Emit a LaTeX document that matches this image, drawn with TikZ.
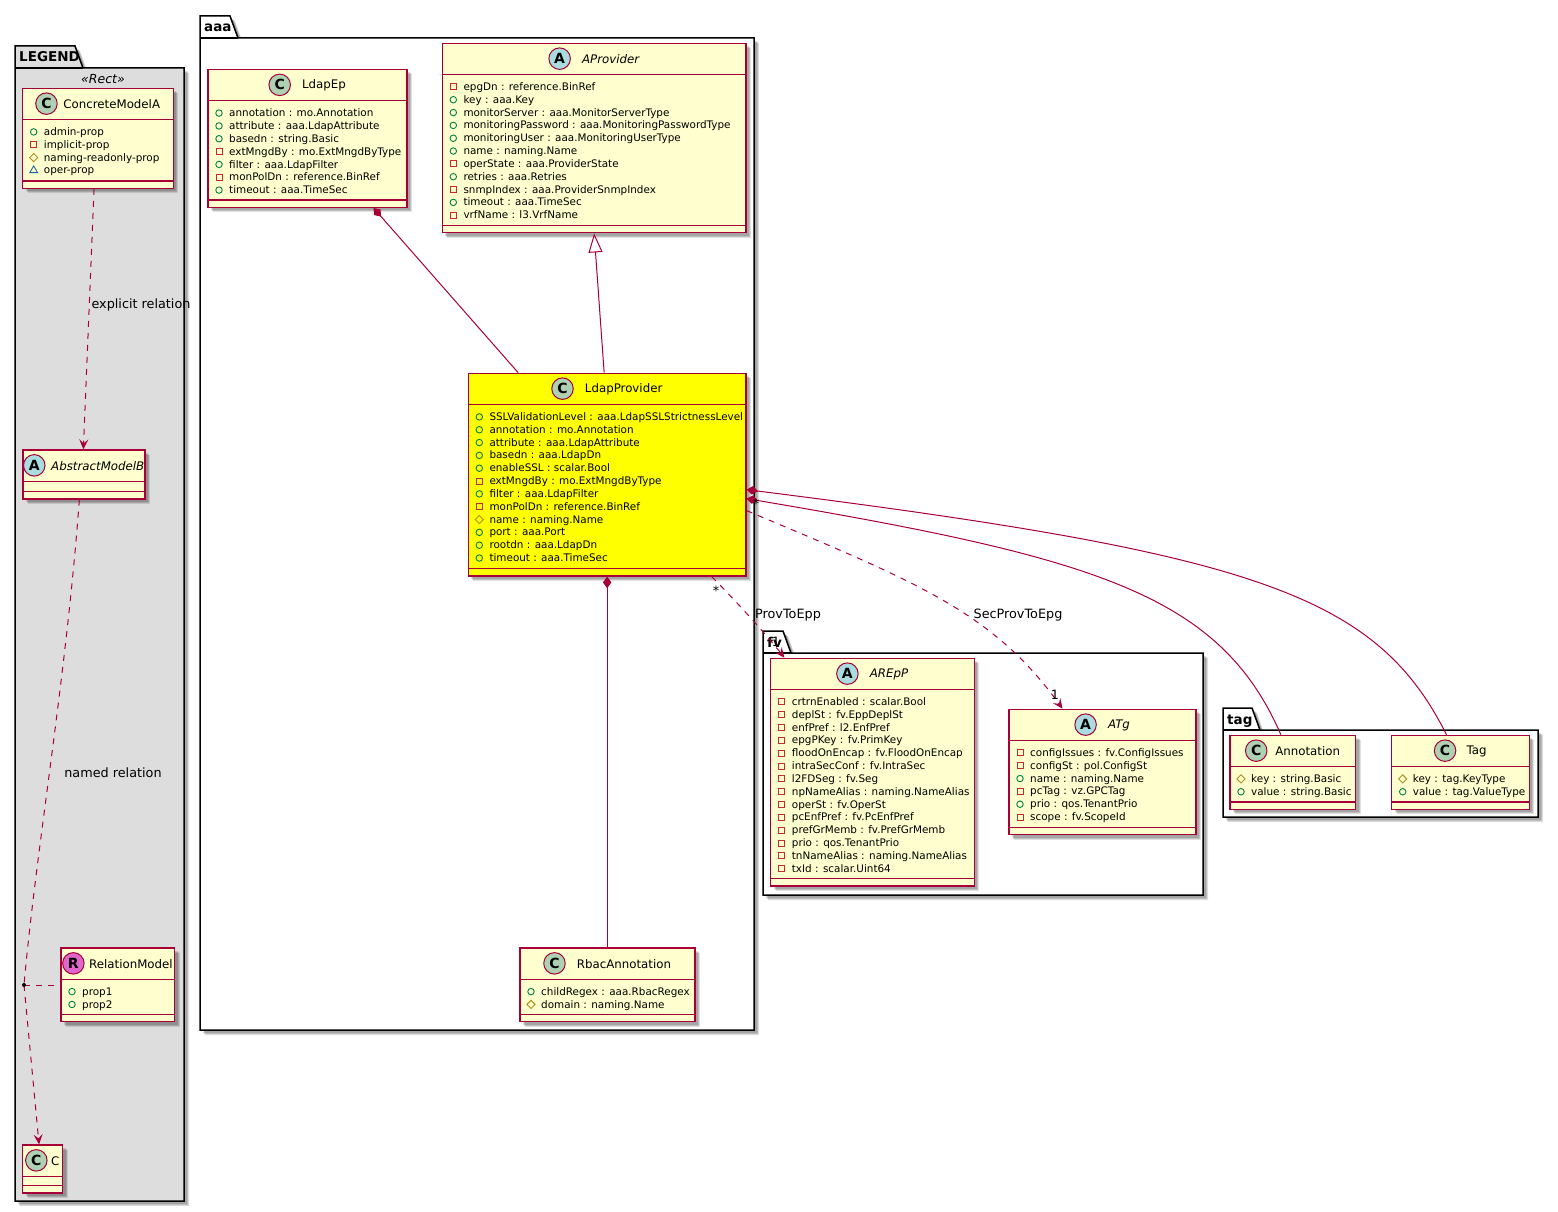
\documentclass[tikz,border=0pt]{standalone}
\usepackage{fontspec}
\setmainfont{DejaVu Sans}
\usepackage{xcolor}
\usetikzlibrary{calc, arrows.meta, shadows, shapes.geometric}

\definecolor{umlline}{HTML}{A80036}
\definecolor{umlfill}{HTML}{FEFECE}
\definecolor{umlyellow}{HTML}{FFFF00}
\definecolor{legendfill}{HTML}{DDDDDD}
\definecolor{spotgreen}{HTML}{ADD1B2}
\definecolor{spotblue}{HTML}{A9DCDF}
\definecolor{spotpink}{HTML}{E066CC}
\definecolor{vispublic}{HTML}{038048}
\definecolor{visprivate}{HTML}{C82930}
\definecolor{visprotected}{HTML}{B38D22}
\definecolor{vispackage}{HTML}{1963A0}

\tikzset{
  softshadow/.style={
    drop shadow={shadow xshift=3pt, shadow yshift=-3pt, opacity=.14, fill=black},
    drop shadow={shadow xshift=4pt, shadow yshift=-4pt, opacity=.14, fill=black},
    drop shadow={shadow xshift=5pt, shadow yshift=-5pt, opacity=.12, fill=black}},
  pkgframe/.style={draw=black, line width=1.5pt, fill=white, softshadow},
  pkgtitle/.style={font=\fontsize{13.5}{15}\selectfont\bfseries, inner sep=0pt, anchor=base west},
  classbox/.style={draw=umlline, line width=1.3pt, fill=umlfill, inner sep=0pt, softshadow},
  classrule/.style={draw=umlline, line width=1.3pt},
  classtitle/.style={font=\fontsize{11.8}{14}\selectfont, inner sep=0pt},
  attrtext/.style={font=\fontsize{10.4}{12}\selectfont, inner sep=0pt, anchor=base west},
  edgelabel/.style={font=\fontsize{12.8}{14}\selectfont, inner sep=0pt},
  spot/.style={circle, draw=umlline, line width=1pt, minimum size=21.5pt, inner sep=0pt,
    font=\fontsize{14}{14}\selectfont\bfseries},
  spotC/.style={fill=spotgreen},
  spotA/.style={fill=spotblue},
  spotR/.style={fill=spotpink},
  visp/.style={circle, draw=vispublic, line width=.9pt, minimum size=6.5pt, inner sep=0pt},
  vism/.style={rectangle, draw=visprivate, line width=.9pt, minimum size=6pt, inner sep=0pt},
  vish/.style={diamond, draw=visprotected, line width=.9pt, minimum size=8.5pt, inner sep=0pt},
  vist/.style={regular polygon, regular polygon sides=3, draw=vispackage, line width=.9pt,
    minimum size=9pt, inner sep=0pt},
  relline/.style={draw=umlline, line width=1pt},
  reldash/.style={relline, dash pattern=on 6pt off 6pt},
  openhead/.style={-{Stealth[length=10pt, width=9pt, inset=4pt, umlline]}},
  fullhead/.style={{Diamond[length=11.5pt, width=8.5pt, umlline]}-},
  inherithead/.style={{Triangle[open, length=19pt, width=14pt, fill=white, umlline]}-}
}

% box, header circle, title, rows: [options]{id}{letter}{title}{x1}{x2}{top}{bottom}{rows}
\newcommand{\umlclass}[9][]{%
  \node[classbox, #1, minimum width={#6-#5}, minimum height={#8-#7}]
    (#2) at ({(#5+#6)/2},{(#7+#8)/2}) {};
  \draw[classrule] ([yshift=-32pt]#2.north west) -- ([yshift=-32pt]#2.north east);
  \draw[classrule] ([yshift=8pt]#2.south west) -- ([yshift=8pt]#2.south east);
  \node[classtitle] (#2-title) at ({(#5+#6)/2+11+\spotgap/2},{#7+16}) {#4};
  \node[spot, spot#3, anchor=east] (#2-spot) at ($(#2-title.west |- #2.north)+({-\spotgap},16)$) {#3};
  \foreach \vis/\txt [count=\i from 0] in {#9} {
    \pgfmathsetmacro{\rowy}{#7+43.6+\i*12.83}
    \node[vis\vis] (#2-mark\i) at ({#5+11},\rowy) {};
    \node[attrtext] (#2-row\i) at ({#5+21},{\rowy+3.6}) {\txt};
  }%
}

% folder outline: [options]{id}{name}{x1}{x2}{tab top}{bottom}{tab right}
\newcommand{\umlpackage}[8][]{%
  \draw[pkgframe, #1] (#4,#6+22) -- (#4,#6) -- (#8,#6) -- (#8+8,#6+22) -- (#5,#6+22)
    -- (#5,#7) -- (#4,#7) -- cycle;
  \draw[black, line width=1.5pt] (#4,#6+22) -- (#8+8,#6+22);
  \node[pkgtitle] (#2) at (#4+4,#6+16) {#3};%
}

\begin{document}
\begin{tikzpicture}[x=1pt, y=-1pt]
    \useasboundingbox (0,0) rectangle (1558,1212);
    \def\spotgap{10}

    % ==========================================
    % PACKAGES
    % ==========================================
    \umlpackage[fill=legendfill]{pkgLegend}{LEGEND}{15}{184}{46}{1201}{75}
    \umlpackage{pkgAaa}{aaa}{200}{754}{16}{1030}{230}
    \umlpackage{pkgFv}{fv}{763}{1203}{631}{895}{783}
    \umlpackage{pkgTag}{tag}{1223}{1538}{708}{817}{1252}

    \node[font=\fontsize{12.5}{14}\selectfont\itshape, inner sep=0pt] (legendStereo) at (103,79) {«Rect»};

    % ==========================================
    % LEGEND
    % ==========================================
    \def\spotgap{5.5}
    \umlclass{ConcreteModelA}{C}{ConcreteModelA}{22.7}{173.3}{88.3}{188.3}
      {p/admin-prop, m/implicit-prop, h/naming-readonly-prop, t/oper-prop}
    \umlclass{AbstractModelB}{A}{\itshape AbstractModelB}{23}{145}{450}{499}{}
    \def\spotgap{4.4}
    \umlclass{RelationModel}{R}{RelationModel}{61}{174.5}{948}{1021.5}
      {p/prop1, p/prop2}
    \def\spotgap{3.4}
    \umlclass{ClassC}{C}{C}{22.7}{62.5}{1145}{1193}{}

    % ==========================================
    % PACKAGE AAA
    % ==========================================
    \def\spotgap{11}
    \umlclass{LdapEp}{C}{LdapEp}{208}{407}{69.5}{207.3}
      {p/annotation : mo.Annotation, p/attribute : aaa.LdapAttribute, p/basedn : string.Basic,
       m/extMngdBy : mo.ExtMngdByType, p/filter : aaa.LdapFilter, m/monPolDn : reference.BinRef,
       p/timeout : aaa.TimeSec}
    \umlclass{AProvider}{A}{\itshape AProvider}{442.3}{746}{43.3}{232.8}
      {m/epgDn : reference.BinRef, p/key : aaa.Key, p/monitorServer : aaa.MonitorServerType,
       p/monitoringPassword : aaa.MonitoringPasswordType, p/monitoringUser : aaa.MonitoringUserType,
       p/name : naming.Name, m/operState : aaa.ProviderState, p/retries : aaa.Retries,
       m/snmpIndex : aaa.ProviderSnmpIndex, p/timeout : aaa.TimeSec, m/vrfName : l3.VrfName}
    \umlclass[fill=umlyellow]{LdapProvider}{C}{LdapProvider}{468.3}{746}{373.3}{576}
      {p/SSLValidationLevel : aaa.LdapSSLStrictnessLevel, p/annotation : mo.Annotation,
       p/attribute : aaa.LdapAttribute, p/basedn : aaa.LdapDn, p/enableSSL : scalar.Bool,
       m/extMngdBy : mo.ExtMngdByType, p/filter : aaa.LdapFilter, m/monPolDn : reference.BinRef,
       h/name : naming.Name, p/port : aaa.Port, p/rootdn : aaa.LdapDn, p/timeout : aaa.TimeSec}
    \umlclass{RbacAnnotation}{C}{RbacAnnotation}{520}{695}{948}{1021.5}
      {p/childRegex : aaa.RbacRegex, h/domain : naming.Name}

    % ==========================================
    % PACKAGE FV
    % ==========================================
    \umlclass{AREpP}{A}{\itshape AREpP}{770.7}{974.3}{658.3}{886}
      {m/crtrnEnabled : scalar.Bool, m/deplSt : fv.EppDeplSt, m/enfPref : l2.EnfPref,
       m/epgPKey : fv.PrimKey, m/floodOnEncap : fv.FloodOnEncap, m/intraSecConf : fv.IntraSec,
       m/l2FDSeg : fv.Seg, m/npNameAlias : naming.NameAlias, m/operSt : fv.OperSt,
       m/pcEnfPref : fv.PcEnfPref, m/prefGrMemb : fv.PrefGrMemb, m/prio : qos.TenantPrio,
       m/tnNameAlias : naming.NameAlias, m/txId : scalar.Uint64}
    \umlclass{ATg}{A}{\itshape ATg}{1009}{1196}{709.3}{834.8}
      {m/configIssues : fv.ConfigIssues, m/configSt : pol.ConfigSt, p/name : naming.Name,
       m/pcTag : vz.GPCTag, p/prio : qos.TenantPrio, m/scope : fv.ScopeId}

    % ==========================================
    % PACKAGE TAG
    % ==========================================
    \def\spotgap{7.7}
    \umlclass{Annotation}{C}{Annotation}{1230}{1355.7}{735.3}{809.3}
      {h/key : string.Basic, p/value : string.Basic}
    \def\spotgap{10}
    \umlclass{Tag}{C}{Tag}{1391.7}{1529.3}{735.3}{809.3}
      {h/key : tag.KeyType, p/value : tag.ValueType}

    % ==========================================
    % RELATIONS
    % ==========================================
    \coordinate (relationDot) at (24,985);
    \draw[reldash, openhead] ([xshift=72pt]ConcreteModelA.south west)
      -- ([xshift=61pt]AbstractModelB.north west);
    \draw[reldash] ([xshift=57pt]AbstractModelB.south west)
      .. controls (66,680) and (36,850) .. (relationDot);
    \draw[reldash, openhead] (relationDot) -- ([xshift=17pt]ClassC.north west);
    \draw[reldash] (relationDot) -- (RelationModel.west |- relationDot);
    \fill[black] (relationDot) circle (2pt);

    \draw[relline, fullhead] ([xshift=66pt]LdapEp.south) -- ([xshift=-89pt]LdapProvider.north);
    \draw[relline, inherithead] (AProvider.south) -- ([xshift=-3pt]LdapProvider.north);
    \draw[relline, fullhead] (LdapProvider.south) -- (LdapProvider.south |- RbacAnnotation.north);

    \draw[reldash, openhead] ([xshift=104.5pt]LdapProvider.south)
      .. controls (735,600) and (765,633) .. ([xshift=14.3pt]AREpP.north west);
    \draw[reldash, openhead] ([yshift=-36pt]LdapProvider.east)
      .. controls (916,582) and (992,611) .. ([xshift=-40pt]ATg.north);
    \draw[relline, fullhead] ([yshift=-24pt]LdapProvider.east)
      .. controls (1098,558) and (1220,595) .. ([xshift=-12pt]Annotation.north);
    \draw[relline, fullhead] ([yshift=-15pt]LdapProvider.east)
      .. controls (1258,554) and (1376,595) .. ([xshift=-14pt]Tag.north);

    % ==========================================
    % RELATION LABELS
    % ==========================================
    \node[edgelabel] (lblExplicit) at (141,305) {explicit relation};
    \node[edgelabel] (lblNamed) at (113,773) {named relation};
    \node[edgelabel] (lblProv) at (788,615.5) {ProvToEpp};
    \node[edgelabel] (lblSec) at (1018,615.5) {SecProvToEpg};
    \node[edgelabel] (lblProvFrom) at (716,591) {*};
    \node[edgelabel] (lblProvTo) at (776,642) {1};
    \node[edgelabel] (lblSecFrom) at (756,504) {*};
    \node[edgelabel] (lblSecTo) at (1055,695) {1};
\end{tikzpicture}
\end{document}
